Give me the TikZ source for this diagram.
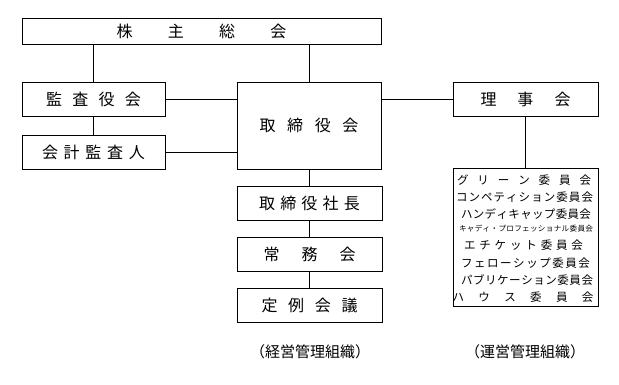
\documentclass[tikz,border=0pt]{standalone}
\usepackage{fontspec}
\setmainfont{Noto Sans CJK JP}
\newcommand{\spr}[2]{\makebox[#1pt][s]{#2}}
\begin{document}
\begin{tikzpicture}[x=1pt,y=-1pt,
  box/.style={draw,line width=1pt,inner sep=0pt,font=\fontsize{16}{16}\selectfont},
  row/.style={inner sep=0pt,font=\fontsize{11.5}{11.5}\selectfont},
  lab/.style={inner sep=0pt,font=\fontsize{15}{15}\selectfont},
  conn/.style={line width=1pt}]
\useasboundingbox (0,0) rectangle (619,384);
\node[box,minimum width=359pt,minimum height=26pt] (soukai) at (201.5,31) {\spr{170}{株\hfill 主\hfill 総\hfill 会}};
\node[box,minimum width=143pt,minimum height=34pt] (kansa) at (93.5,99) {\spr{95}{監\hfill 査\hfill 役\hfill 会}};
\node[box,minimum width=143pt,minimum height=34pt] (kaikei) at (93.5,152) {\spr{103}{会\hfill 計\hfill 監\hfill 査\hfill 人}};
\node[box,minimum width=144pt,minimum height=87pt] (tori) at (309,125.5) {\spr{99}{取\hfill 締\hfill 役\hfill 会}};
\node[box,minimum width=145pt,minimum height=34pt] (shacho) at (309.5,203) {\spr{101}{取\hfill 締\hfill 役\hfill 社\hfill 長}};
\node[box,minimum width=145pt,minimum height=34pt] (jomu) at (309.5,254) {\spr{92}{常\hfill 務\hfill 会}};
\node[box,minimum width=145pt,minimum height=34pt] (teirei) at (309.5,305) {\spr{96}{定\hfill 例\hfill 会\hfill 議}};
\node[box,minimum width=145pt,minimum height=34pt] (riji) at (525.5,99) {\spr{90}{理\hfill 事\hfill 会}};
\node[box,minimum width=145pt,minimum height=138pt] (iinkai) at (525.5,237.5) {};
\node[row] (r1) at (524,180) {\spr{134}{グ\hfill リ\hfill ー\hfill ン\hfill 委\hfill 員\hfill 会}};
\node[row] (r2) at (524.5,197) {\spr{137}{コ\hfill ン\hfill ペ\hfill テ\hfill ィ\hfill シ\hfill ョ\hfill ン\hfill 委\hfill 員\hfill 会}};
\node[row] (r3) at (526,214) {\spr{130}{ハ\hfill ン\hfill デ\hfill ィ\hfill キ\hfill ャ\hfill ッ\hfill プ\hfill 委\hfill 員\hfill 会}};
\node[row,font=\fontsize{7.6}{7.6}\selectfont] (r4) at (526,229) {\spr{134}{キ\hfill ャ\hfill デ\hfill ィ\hfill ・\hfill プ\hfill ロ\hfill フ\hfill ェ\hfill ッ\hfill シ\hfill ョ\hfill ナ\hfill ル\hfill 委\hfill 員\hfill 会}};
\node[row] (r5) at (523.5,245) {\spr{119}{エ\hfill チ\hfill ケ\hfill ッ\hfill ト\hfill 委\hfill 員\hfill 会}};
\node[row] (r6) at (525.5,263) {\spr{129}{フ\hfill ェ\hfill ロ\hfill ー\hfill シ\hfill ッ\hfill プ\hfill 委\hfill 員\hfill 会}};
\node[row] (r7) at (527,280) {\spr{132}{パ\hfill ブ\hfill リ\hfill ケ\hfill ー\hfill シ\hfill ョ\hfill ン\hfill 委\hfill 員\hfill 会}};
\node[row] (r8) at (523,297) {\spr{141}{ハ\hfill ウ\hfill ス\hfill 委\hfill 員\hfill 会}};
\node[lab] (keiei) at (310,352) {（経営管理組織）};
\node[lab] (unei) at (525,352) {（運営管理組織）};
\draw[conn] (soukai.south -| kansa) -- (kansa.north);
\draw[conn] (soukai.south -| tori) -- (tori.north);
\draw[conn] (kansa.south) -- (kaikei.north);
\draw[conn] (kansa.east) -- (kansa.east -| tori.west);
\draw[conn] (kaikei.east) -- (kaikei.east -| tori.west);
\draw[conn] (riji.west -| tori.east) -- (riji.west);
\draw[conn] (tori.south -| shacho) -- (shacho.north);
\draw[conn] (shacho.south) -- (jomu.north);
\draw[conn] (jomu.south) -- (teirei.north);
\draw[conn] (riji.south) -- (iinkai.north);
\end{tikzpicture}
\end{document}
